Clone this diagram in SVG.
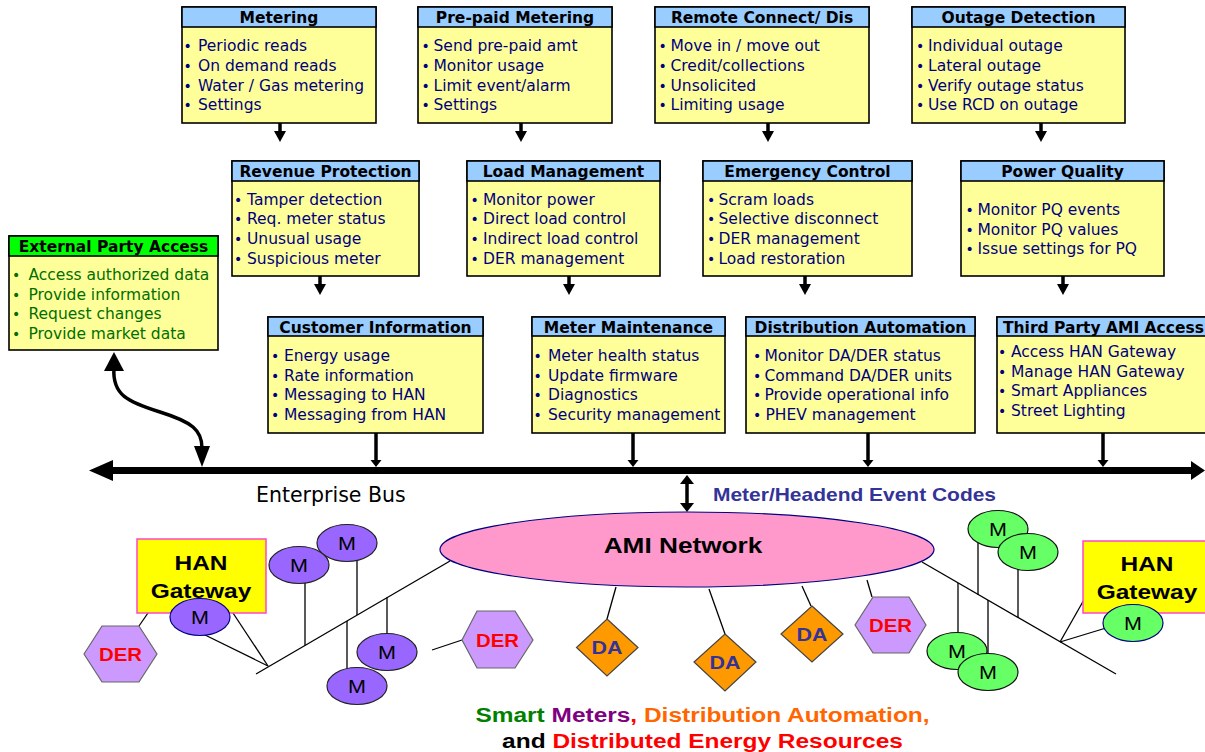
<svg xmlns="http://www.w3.org/2000/svg" width="1205" height="752" viewBox="0 0 1205 752">
<style>
.box{fill:#FFFF99;stroke:#000;stroke-width:1.6}
.hdr{fill:#99CCFF;stroke:#000;stroke-width:1.6}
.hdrg{fill:#00FF00;stroke:#000;stroke-width:1.6}
.ht{font-family:"DejaVu Sans",Verdana,sans-serif;font-weight:bold;font-size:15.5px;fill:#000;text-anchor:middle}
.bt{font-family:"DejaVu Sans",Verdana,sans-serif;font-size:15.5px;fill:#000080}
.gt{font-family:"DejaVu Sans",Verdana,sans-serif;font-size:15.5px;fill:#006E00}
.bu{font-size:14px}
.arr{stroke:#000;stroke-width:3.5;fill:none}
.thin{stroke:#000;stroke-width:1.3;fill:none}
.mp{fill:#9966FF;stroke:#222;stroke-width:1.2}
.mg{fill:#66FF66;stroke:#111;stroke-width:1.2}
.der{fill:#CC99FF;stroke:#666;stroke-width:1.2}
.da{fill:#FF9900;stroke:#444;stroke-width:1.2}
.han{fill:#FFFF00;stroke:#FF44CC;stroke-width:1.5}
.ar{font-family:"Liberation Sans",Arial,sans-serif;text-anchor:middle}
.lm{font-size:18.5px;fill:#000}
.lder{font-size:17.5px;font-weight:bold;fill:#FF0000}
.lda{font-size:18.4px;font-weight:bold;fill:#333399}
.lhan{font-size:21px;font-weight:bold;fill:#000}
</style>
<defs>
<marker id="ah" markerUnits="userSpaceOnUse" markerWidth="12" markerHeight="13" refX="4" refY="6" orient="auto"><path d="M0,0L11,6L0,12z" fill="#000"/></marker>
<marker id="as" markerUnits="userSpaceOnUse" markerWidth="8" markerHeight="12" refX="2" refY="5.5" orient="auto"><path d="M0,0L7,5.5L0,11z" fill="#000"/></marker>
<marker id="ad" markerUnits="userSpaceOnUse" markerWidth="10" markerHeight="16" refX="3" refY="7" orient="auto-start-reverse"><path d="M0,0L9,7L0,14z" fill="#000"/></marker>
</defs>
<rect width="1205" height="752" fill="#fff"/>

<!-- Row 1 -->
<g id="metering">
<rect class="box" x="182" y="7" width="194" height="116"/>
<rect class="hdr" x="182" y="7" width="194" height="20"/>
<text class="ht" x="279" y="22.5">Metering</text>
<text class="bt" y="50.5"><tspan class="bu" x="183.5">•</tspan><tspan x="198">Periodic reads</tspan></text>
<text class="bt" y="70.5"><tspan class="bu" x="183.5">•</tspan><tspan x="198">On demand reads</tspan></text>
<text class="bt" y="90.5"><tspan class="bu" x="183.5">•</tspan><tspan x="198">Water / Gas metering</tspan></text>
<text class="bt" y="109.5"><tspan class="bu" x="183.5">•</tspan><tspan x="198">Settings</tspan></text>
</g>
<g id="prepaid">
<rect class="box" x="418" y="7" width="194" height="116"/>
<rect class="hdr" x="418" y="7" width="194" height="20"/>
<text class="ht" x="515" y="22.5">Pre-paid Metering</text>
<text class="bt" y="50.5"><tspan class="bu" x="421.5">•</tspan><tspan x="433.5">Send pre-paid amt</tspan></text>
<text class="bt" y="70.5"><tspan class="bu" x="421.5">•</tspan><tspan x="433.5">Monitor usage</tspan></text>
<text class="bt" y="90.5"><tspan class="bu" x="421.5">•</tspan><tspan x="433.5">Limit event/alarm</tspan></text>
<text class="bt" y="109.5"><tspan class="bu" x="421.5">•</tspan><tspan x="433.5">Settings</tspan></text>
</g>
<g id="remote">
<rect class="box" x="655" y="7" width="214" height="116"/>
<rect class="hdr" x="655" y="7" width="214" height="20"/>
<text class="ht" x="762" y="22.5">Remote Connect/ Dis</text>
<text class="bt" y="50.5"><tspan class="bu" x="658.5">•</tspan><tspan x="670.5">Move in / move out</tspan></text>
<text class="bt" y="70.5"><tspan class="bu" x="658.5">•</tspan><tspan x="670.5">Credit/collections</tspan></text>
<text class="bt" y="90.5"><tspan class="bu" x="658.5">•</tspan><tspan x="670.5">Unsolicited</tspan></text>
<text class="bt" y="109.5"><tspan class="bu" x="658.5">•</tspan><tspan x="670.5">Limiting usage</tspan></text>
</g>
<g id="outage">
<rect class="box" x="912" y="7" width="213" height="116"/>
<rect class="hdr" x="912" y="7" width="213" height="20"/>
<text class="ht" x="1018.5" y="22.5">Outage Detection</text>
<text class="bt" y="50.5"><tspan class="bu" x="916">•</tspan><tspan x="928">Individual outage</tspan></text>
<text class="bt" y="70.5"><tspan class="bu" x="916">•</tspan><tspan x="928">Lateral outage</tspan></text>
<text class="bt" y="90.5"><tspan class="bu" x="916">•</tspan><tspan x="928">Verify outage status</tspan></text>
<text class="bt" y="109.5"><tspan class="bu" x="916">•</tspan><tspan x="928">Use RCD on outage</tspan></text>
</g>

<!-- Row 2 -->
<g id="revenue">
<rect class="box" x="232" y="161" width="187" height="115"/>
<rect class="hdr" x="232" y="161" width="187" height="20"/>
<text class="ht" x="325.5" y="176.5">Revenue Protection</text>
<text class="bt" y="204.5"><tspan class="bu" x="234">•</tspan><tspan x="247">Tamper detection</tspan></text>
<text class="bt" y="224"><tspan class="bu" x="234">•</tspan><tspan x="247">Req. meter status</tspan></text>
<text class="bt" y="243.5"><tspan class="bu" x="234">•</tspan><tspan x="247">Unusual usage</tspan></text>
<text class="bt" y="263.5"><tspan class="bu" x="234">•</tspan><tspan x="247">Suspicious meter</tspan></text>
</g>
<g id="load">
<rect class="box" x="467" y="161" width="193" height="115"/>
<rect class="hdr" x="467" y="161" width="193" height="20"/>
<text class="ht" x="563.5" y="176.5">Load Management</text>
<text class="bt" y="204.5"><tspan class="bu" x="470.5">•</tspan><tspan x="483">Monitor power</tspan></text>
<text class="bt" y="224"><tspan class="bu" x="470.5">•</tspan><tspan x="483">Direct load control</tspan></text>
<text class="bt" y="243.5"><tspan class="bu" x="470.5">•</tspan><tspan x="483">Indirect load control</tspan></text>
<text class="bt" y="263.5"><tspan class="bu" x="470.5">•</tspan><tspan x="483">DER management</tspan></text>
</g>
<g id="emergency">
<rect class="box" x="703" y="161" width="209" height="115"/>
<rect class="hdr" x="703" y="161" width="209" height="20"/>
<text class="ht" x="807.5" y="176.5">Emergency Control</text>
<text class="bt" y="204.5"><tspan class="bu" x="707">•</tspan><tspan x="718.5">Scram loads</tspan></text>
<text class="bt" y="224"><tspan class="bu" x="707">•</tspan><tspan x="718.5">Selective disconnect</tspan></text>
<text class="bt" y="243.5"><tspan class="bu" x="707">•</tspan><tspan x="718.5">DER management</tspan></text>
<text class="bt" y="263.5"><tspan class="bu" x="707">•</tspan><tspan x="718.5">Load restoration</tspan></text>
</g>
<g id="powerquality">
<rect class="box" x="961" y="161" width="203" height="115"/>
<rect class="hdr" x="961" y="161" width="203" height="20"/>
<text class="ht" x="1062.5" y="176.5">Power Quality</text>
<text class="bt" y="214.5"><tspan class="bu" x="965.5">•</tspan><tspan x="977.5">Monitor PQ events</tspan></text>
<text class="bt" y="234.5"><tspan class="bu" x="965.5">•</tspan><tspan x="977.5">Monitor PQ values</tspan></text>
<text class="bt" y="253.5"><tspan class="bu" x="965.5">•</tspan><tspan x="977.5">Issue settings for PQ</tspan></text>
</g>

<!-- Row 3 -->
<g id="customer">
<rect class="box" x="268" y="317" width="215" height="116"/>
<rect class="hdr" x="268" y="317" width="215" height="19"/>
<text class="ht" x="375.5" y="332.5">Customer Information</text>
<text class="bt" y="360.5"><tspan class="bu" x="271">•</tspan><tspan x="284">Energy usage</tspan></text>
<text class="bt" y="380.5"><tspan class="bu" x="271">•</tspan><tspan x="284">Rate information</tspan></text>
<text class="bt" y="399.5"><tspan class="bu" x="271">•</tspan><tspan x="284">Messaging to HAN</tspan></text>
<text class="bt" y="419.5"><tspan class="bu" x="271">•</tspan><tspan x="284">Messaging from HAN</tspan></text>
</g>
<g id="metermaint">
<rect class="box" x="532" y="317" width="193" height="116"/>
<rect class="hdr" x="532" y="317" width="193" height="19"/>
<text class="ht" x="628.5" y="332.5">Meter Maintenance</text>
<text class="bt" y="360.5"><tspan class="bu" x="533.5">•</tspan><tspan x="548">Meter health status</tspan></text>
<text class="bt" y="380.5"><tspan class="bu" x="533.5">•</tspan><tspan x="548">Update firmware</tspan></text>
<text class="bt" y="399.5"><tspan class="bu" x="533.5">•</tspan><tspan x="548">Diagnostics</tspan></text>
<text class="bt" y="419.5"><tspan class="bu" x="533.5">•</tspan><tspan x="548">Security management</tspan></text>
</g>
<g id="distauto">
<rect class="box" x="746" y="317" width="229" height="116"/>
<rect class="hdr" x="746" y="317" width="229" height="19"/>
<text class="ht" x="860.5" y="332.5">Distribution Automation</text>
<text class="bt" y="360.5"><tspan class="bu" x="753">•</tspan><tspan x="764.5">Monitor DA/DER status</tspan></text>
<text class="bt" y="380.5"><tspan class="bu" x="753">•</tspan><tspan x="764.5">Command DA/DER units</tspan></text>
<text class="bt" y="399.5"><tspan class="bu" x="753">•</tspan><tspan x="764.5">Provide operational info</tspan></text>
<text class="bt" y="419.5"><tspan class="bu" x="753">•</tspan><tspan x="765.5">PHEV management</tspan></text>
</g>
<g id="thirdparty">
<rect class="box" x="997" y="317" width="220" height="116"/>
<rect class="hdr" x="997" y="317" width="220" height="19"/>
<text class="ht" x="1003" y="332.5" style="text-anchor:start">Third Party AMI Access</text>
<text class="bt" y="356.5"><tspan class="bu" x="998">•</tspan><tspan x="1011">Access HAN Gateway</tspan></text>
<text class="bt" y="376.5"><tspan class="bu" x="998">•</tspan><tspan x="1011">Manage HAN Gateway</tspan></text>
<text class="bt" y="395.5"><tspan class="bu" x="998">•</tspan><tspan x="1011">Smart Appliances</tspan></text>
<text class="bt" y="415.5"><tspan class="bu" x="998">•</tspan><tspan x="1011">Street Lighting</tspan></text>
</g>

<g id="external">
<rect class="box" x="9" y="236" width="209" height="114"/>
<rect class="hdrg" x="9" y="236" width="209" height="20"/>
<text class="ht" x="113.5" y="251.5">External Party Access</text>
<text class="gt" y="279.5"><tspan class="bu" x="12">•</tspan><tspan x="28.5">Access authorized data</tspan></text>
<text class="gt" y="299.5"><tspan class="bu" x="12">•</tspan><tspan x="28.5">Provide information</tspan></text>
<text class="gt" y="318.5"><tspan class="bu" x="12">•</tspan><tspan x="28.5">Request changes</tspan></text>
<text class="gt" y="338.5"><tspan class="bu" x="12">•</tspan><tspan x="28.5">Provide market data</tspan></text>
</g>

<!-- Connectors -->
<g id="connectors">
<line class="arr" x1="280" y1="123" x2="280" y2="135" marker-end="url(#ah)"/>
<line class="arr" x1="521" y1="123" x2="521" y2="135" marker-end="url(#ah)"/>
<line class="arr" x1="768" y1="123" x2="768" y2="135" marker-end="url(#ah)"/>
<line class="arr" x1="1041" y1="123" x2="1041" y2="135" marker-end="url(#ah)"/>
<line class="arr" x1="320" y1="276" x2="320" y2="288" marker-end="url(#ah)"/>
<line class="arr" x1="569" y1="276" x2="569" y2="288" marker-end="url(#ah)"/>
<line class="arr" x1="805" y1="276" x2="805" y2="288" marker-end="url(#ah)"/>
<line class="arr" x1="1063" y1="276" x2="1063" y2="288" marker-end="url(#ah)"/>
<line class="arr" x1="376" y1="433" x2="376" y2="462" marker-end="url(#as)"/>
<line class="arr" x1="633" y1="433" x2="633" y2="462" marker-end="url(#as)"/>
<line class="arr" x1="868" y1="433" x2="868" y2="462" marker-end="url(#as)"/>
<line class="arr" x1="1103" y1="433" x2="1103" y2="462" marker-end="url(#as)"/>
<!-- Enterprise bus -->
<line x1="110" y1="470.5" x2="1194" y2="470.5" stroke="#000" stroke-width="7"/>
<polygon points="89,470.5 113,460 113,481" fill="#000"/>
<polygon points="1205,470.5 1191,461 1191,480" fill="#000"/>
<!-- External party curved double arrow -->
<path class="arr" stroke-width="4" d="M114,368 C112,395 128,402 160,412 C192,422 202,430 202,448"/>
<polygon points="114,352 104,371 124,371" fill="#000"/>
<polygon points="202,467 194,446 210,446" fill="#000"/>
<!-- Meter/Headend double arrow -->
<line class="arr" x1="687" y1="481" x2="687" y2="506" marker-start="url(#ad)" marker-end="url(#ad)"/>
</g>

<text x="256" y="501.5" style="font-family:'DejaVu Sans',Verdana,sans-serif;font-size:20.5px;fill:#000">Enterprise Bus</text>
<text class="ar" transform="translate(713,501) scale(1.165,1)" style="text-anchor:start;font-size:18px;font-weight:bold;fill:#333399">Meter/Headend Event Codes</text>

<!-- AMI network -->
<g id="ami-network">
<ellipse cx="687" cy="549.5" rx="247" ry="37.5" fill="#FF99CC" stroke="#000080" stroke-width="1.2"/>
<text class="ar" transform="translate(683,553) scale(1.165,1)" style="font-size:22.5px;font-weight:bold;fill:#000">AMI Network</text>
</g>

<!-- Left side field network -->
<g id="left-field">
<line class="thin" x1="256" y1="674" x2="450" y2="561"/>
<line class="thin" x1="268" y1="666" x2="203" y2="634"/>
<line class="thin" x1="268" y1="666" x2="233" y2="613"/>
<line class="thin" x1="139" y1="626" x2="159" y2="597"/>
<line class="thin" x1="305" y1="580" x2="305" y2="645.5"/>
<line class="thin" x1="357" y1="558" x2="357" y2="615"/>
<line class="thin" x1="347" y1="621" x2="347" y2="670"/>
<line class="thin" x1="387" y1="597.5" x2="387" y2="636"/>
<line class="thin" x1="432" y1="650" x2="462" y2="640"/>
</g>
<g id="han-left">
<rect class="han" x="137" y="539" width="129" height="74"/>
<text class="ar lhan" transform="translate(201,570) scale(1.165,1)">HAN</text>
<text class="ar lhan" transform="translate(201,597.5) scale(1.165,1)">Gateway</text>
</g>
<g id="meters-left">
<ellipse class="mp" cx="347" cy="543" rx="30" ry="18.5"/>
<text class="ar lm" transform="translate(347,550) scale(1.165,1)">M</text>
<ellipse class="mp" cx="299" cy="565" rx="30" ry="18.5"/>
<text class="ar lm" transform="translate(299,572) scale(1.165,1)">M</text>
<ellipse class="mp" cx="200" cy="617" rx="30" ry="18.5" style="stroke:#000080"/>
<text class="ar lm" transform="translate(200,624) scale(1.165,1)">M</text>
<ellipse class="mp" cx="387" cy="652" rx="30" ry="18.5"/>
<text class="ar lm" transform="translate(387,659) scale(1.165,1)">M</text>
<ellipse class="mp" cx="357" cy="686" rx="30" ry="18.5"/>
<text class="ar lm" transform="translate(357,693) scale(1.165,1)">M</text>
</g>
<g id="der-left">
<polygon class="der" points="84,654 102,626 139,626 157,654 139,682 102,682"/>
<text class="ar lder" transform="translate(120.5,660.5) scale(1.165,1)">DER</text>
</g>
<g id="der-mid">
<polygon class="der" points="462,640 477,611 515,611 533,640 515,668 477,668"/>
<text class="ar lder" transform="translate(497.5,646.5) scale(1.165,1)">DER</text>
</g>

<!-- DA and DER under AMI -->
<g id="ami-drops">
<line class="thin" x1="616" y1="587" x2="607" y2="619"/>
<line class="thin" x1="709" y1="589" x2="725" y2="634"/>
<line class="thin" x1="802" y1="586" x2="811" y2="606"/>
<line class="thin" x1="867" y1="580" x2="872" y2="597"/>
</g>
<g id="da1">
<polygon class="da" points="607,619 638,647.5 607,676 576.5,647.5"/>
<text class="ar lda" transform="translate(607,654) scale(1.165,1)">DA</text>
</g>
<g id="da2">
<polygon class="da" points="725,634 756,662 725,691 694,662"/>
<text class="ar lda" transform="translate(725,668.5) scale(1.165,1)">DA</text>
</g>
<g id="da3">
<polygon class="da" points="812,606 843,634 812,662 781,634"/>
<text class="ar lda" transform="translate(812,640.5) scale(1.165,1)">DA</text>
</g>
<g id="der-right">
<polygon class="der" points="855,625 873,597 909,597 926,625 909,653 873,653"/>
<text class="ar lder" transform="translate(890.5,631.5) scale(1.165,1)">DER</text>
</g>

<!-- Right side field network -->
<g id="right-field">
<line class="thin" x1="922" y1="562" x2="1116" y2="674"/>
<line class="thin" x1="978" y1="543" x2="978" y2="594.5"/>
<line class="thin" x1="1018" y1="566" x2="1018" y2="617.5"/>
<line class="thin" x1="958" y1="583" x2="958" y2="636"/>
<line class="thin" x1="988" y1="600" x2="988" y2="657"/>
<line class="thin" x1="1060" y1="642" x2="1085" y2="598"/>
<line class="thin" x1="1060" y1="642" x2="1106" y2="628"/>
</g>
<g id="han-right">
<rect class="han" x="1083" y="541" width="130" height="72"/>
<text class="ar lhan" transform="translate(1147,571) scale(1.165,1)">HAN</text>
<text class="ar lhan" transform="translate(1147,598.5) scale(1.165,1)">Gateway</text>
</g>
<g id="meters-right">
<ellipse class="mg" cx="998" cy="529" rx="30" ry="18.5"/>
<text class="ar lm" transform="translate(998,536) scale(1.165,1)">M</text>
<ellipse class="mg" cx="1028" cy="552" rx="30" ry="18.5"/>
<text class="ar lm" transform="translate(1028,559) scale(1.165,1)">M</text>
<ellipse class="mg" cx="957" cy="651" rx="30" ry="18.5"/>
<text class="ar lm" transform="translate(957,658) scale(1.165,1)">M</text>
<ellipse class="mg" cx="988" cy="672" rx="30" ry="18.5"/>
<text class="ar lm" transform="translate(988,679) scale(1.165,1)">M</text>
<ellipse class="mg" cx="1133" cy="623" rx="30" ry="18.5" style="stroke:#000080"/>
<text class="ar lm" transform="translate(1133,630) scale(1.165,1)">M</text>
</g>

<!-- Caption -->
<g id="caption" style="font-family:'Liberation Sans',Arial,sans-serif;font-weight:bold;font-size:21px">
<text transform="translate(702.5,722) scale(1.165,1)" text-anchor="middle"><tspan fill="#008000">Smart </tspan><tspan fill="#800080">Meters</tspan><tspan fill="#FF0000">, </tspan><tspan fill="#FF6600">Distribution Automation,</tspan></text>
<text transform="translate(702.5,748) scale(1.165,1)" text-anchor="middle"><tspan fill="#000">and </tspan><tspan fill="#FF0000">Distributed Energy Resources</tspan></text>
</g>
</svg>
